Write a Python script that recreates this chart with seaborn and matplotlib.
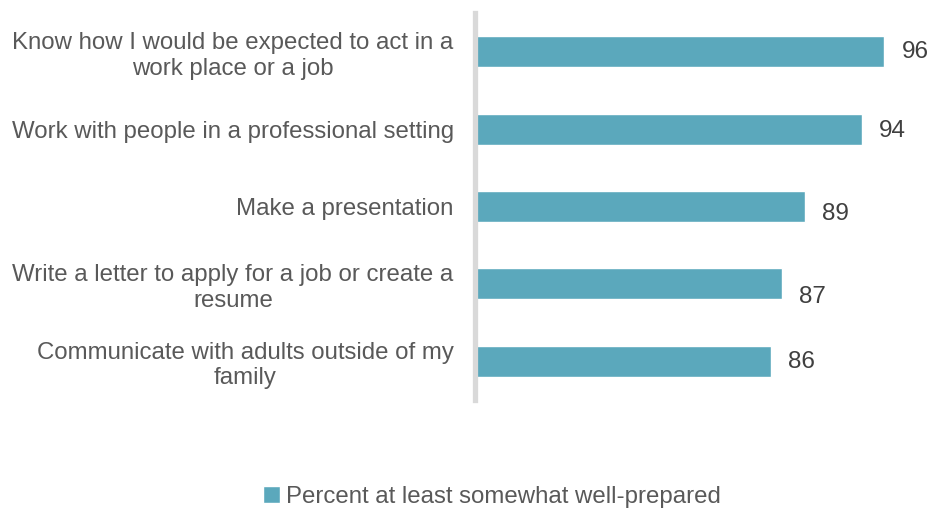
import matplotlib
matplotlib.use("Agg")
import matplotlib.pyplot as plt
import seaborn as sns
import pandas as pd

categories = [
    "Know how I would be expected to act in a\nwork place or a job",
    "Work with people in a professional setting",
    "Make a presentation",
    "Write a letter to apply for a job or create a\nresume",
    "Communicate with adults outside of my\nfamily",
]
values = [96, 94, 89, 87, 86]
series_name = "Percent at least somewhat well-prepared"

bar_color = "#5BA8BC"
text_color = "#595959"

sns.set_theme(style="white")
plt.rcParams["font.family"] = ["Liberation Sans", "DejaVu Sans"]

df = pd.DataFrame({"category": categories, "value": values, "series": series_name})

fig = plt.figure(figsize=(9.30, 5.08), dpi=100)
ax = fig.add_axes([474.5 / 930, 1 - 400 / 508, 1 - 474.5 / 930, (400 - 13) / 508])

sns.barplot(data=df, x="value", y="category", hue="series", palette=[bar_color],
            width=0.4, ax=ax, legend=True, saturation=1)

ax.set_xlim(60, 100)
ax.set_xlabel("")
ax.set_ylabel("")
ax.set_xticks([])

for s in ["top", "right", "bottom"]:
    ax.spines[s].set_visible(False)
ax.spines["left"].set_color("#D9D9D9")
ax.spines["left"].set_linewidth(3.8)

ax.tick_params(axis="y", length=0, pad=15, labelsize=17.3, labelcolor=text_color)
for lbl in ax.get_yticklabels():
    lbl.set_multialignment("center")

# value labels beside each bar end
label_dy = [0.0, 0.03, 0.1, 0.17, 0.01]
for i, v in enumerate(values):
    ax.text(v + 1.5, i + label_dy[i], str(v), ha="left", va="center",
            fontsize=17.5, color="#404040")

leg = ax.legend(loc="center", bbox_to_anchor=(492 / 930, 1 - 497 / 508),
                bbox_transform=fig.transFigure, frameon=False, fontsize=17.3,
                handlelength=0.7, handleheight=0.7, handletextpad=0.25)
for t in leg.get_texts():
    t.set_color(text_color)

fig.savefig("out.png", dpi=100)
